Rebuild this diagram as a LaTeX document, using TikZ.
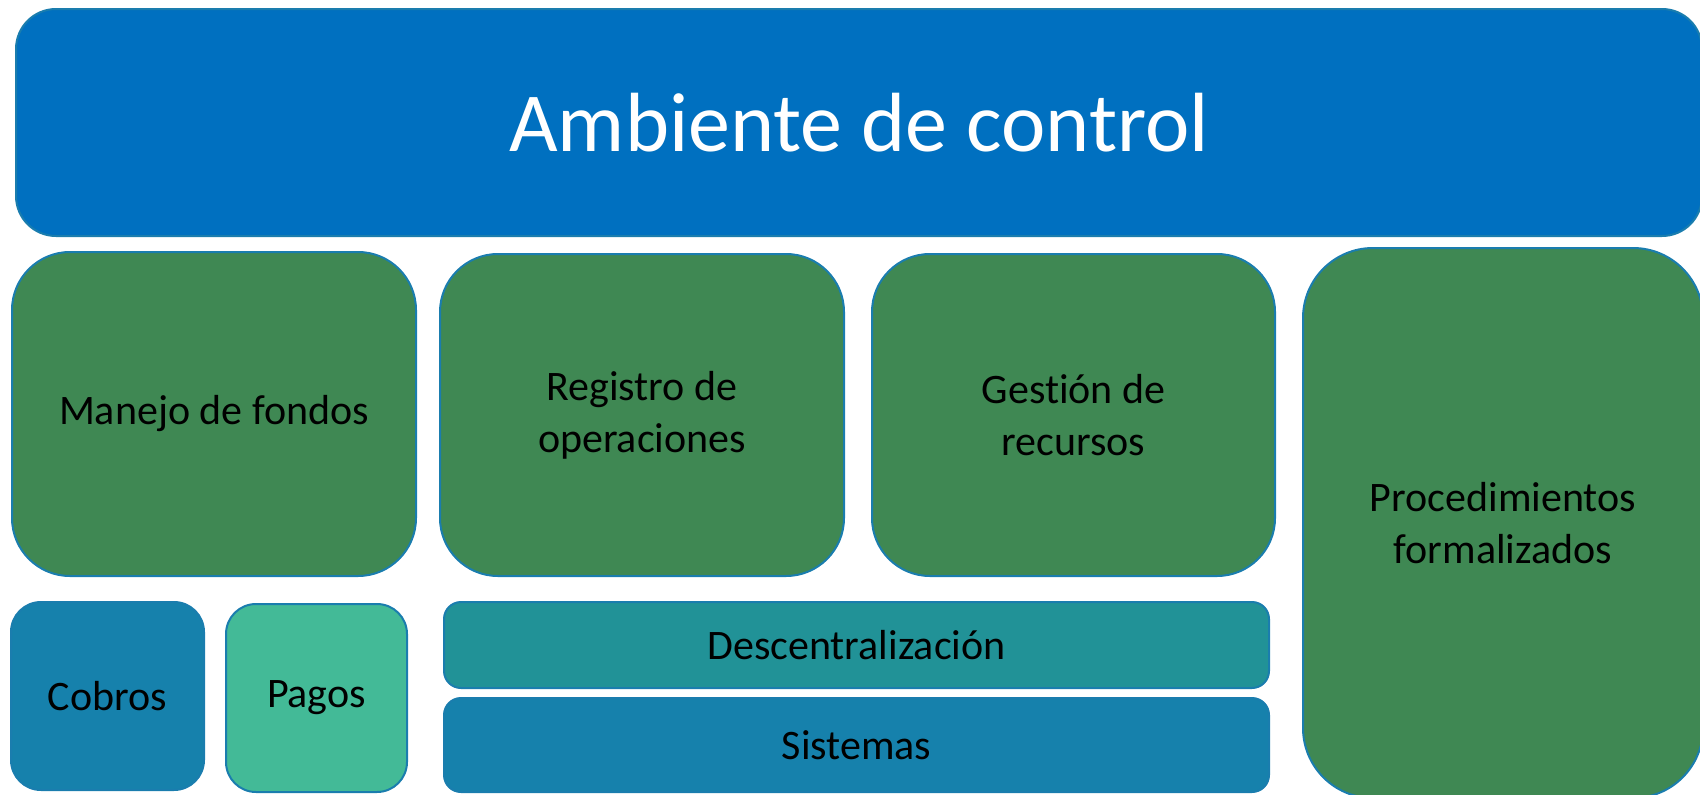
\documentclass[tikz,border=0pt]{standalone}
\usepackage{fontspec}
\setmainfont[Ligatures=NoCommon]{Carlito}
\definecolor{topblue}{HTML}{0070C0}
\definecolor{boxgreen}{HTML}{3F8853}
\definecolor{boxblue}{HTML}{1681AC}
\definecolor{boxmint}{HTML}{43BA97}
\definecolor{boxteal}{HTML}{219297}
\definecolor{edgeblue}{HTML}{1A7DAE}
\tikzset{
  blk/.style={draw=edgeblue, line width=2pt, rectangle, anchor=north west, inner sep=0pt, align=center, font=\fontsize{42}{52}\selectfont, text=black},
}
\begin{document}
\begin{tikzpicture}[x=1pt,y=-1pt]
\useasboundingbox (0,0) rectangle (1700,795);
\clip (0,0) rectangle (1700,795);
\node[blk, fill=topblue, rounded corners=40pt, minimum width=1686pt, minimum height=227pt, text=white, font=\fontsize{84}{100}\selectfont] (amb) at (15,8) {Ambiente de control};
\node[blk, fill=boxgreen, rounded corners=58pt, minimum width=404pt, minimum height=324pt] (man) at (11,251) {Manejo de fondos};
\node[blk, fill=boxgreen, rounded corners=58pt, minimum width=404pt, minimum height=322pt] (reg) at (439,253) {Registro de\\operaciones};
\node[blk, fill=boxgreen, rounded corners=58pt, minimum width=403pt, minimum height=322pt] (ges) at (871,253) {Gestión de\\recursos};
\node[blk, fill=boxgreen, rounded corners=70pt, minimum width=400pt, minimum height=550pt] (pro) at (1302,247) {Procedimientos\\formalizados};
\node[blk, fill=boxblue, rounded corners=30pt, minimum width=193pt, minimum height=188pt] (cob) at (10,601) {Cobros};
\node[blk, fill=boxmint, rounded corners=30pt, minimum width=181pt, minimum height=188pt] (pag) at (225,603) {Pagos};
\node[blk, fill=boxteal, rounded corners=17pt, minimum width=825pt, minimum height=86pt] (des) at (443,601) {Descentralización};
\node[blk, fill=boxblue, rounded corners=17pt, minimum width=825pt, minimum height=94pt] (sis) at (443,697) {Sistemas};
\end{tikzpicture}
\end{document}
